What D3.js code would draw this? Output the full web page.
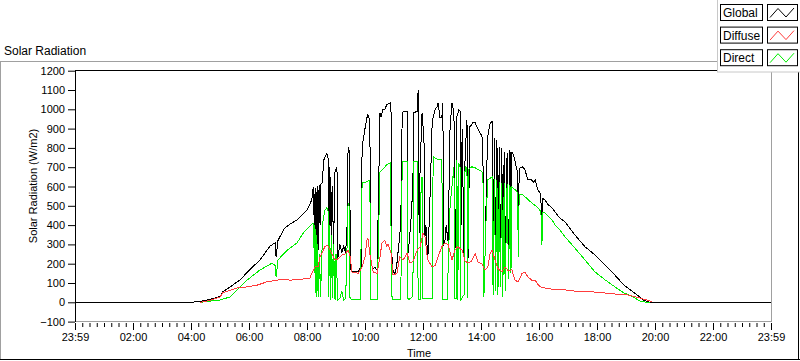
<!DOCTYPE html>
<html><head><meta charset="utf-8">
<script src="https://cdn.jsdelivr.net/npm/d3@7"></script>
<style>
html,body{margin:0;padding:0;background:#fff;overflow:hidden;}
svg text{font-family:"Liberation Sans",Arial,sans-serif;fill:#000;}
</style></head><body>
<svg id="chart" width="800" height="361"></svg>
<script>
// ---------- DATA ----------
const seriesNames = ["Global", "Diffuse", "Direct"];
const xTickLabels = ["23:59","02:00","04:00","06:00","08:00","10:00","12:00","14:00","16:00","18:00","20:00","22:00","23:59"];
const yTickValues = [-100,0,100,200,300,400,500,600,700,800,900,1000,1100,1200];

const globalData = [["00:00",0],["04:00",0],["04:19",5],["04:39",15],["05:00",30],["05:06",55],["05:21",80],["05:41",115],["06:02",170],["06:23",220],["06:43",290],["06:54",308],["06:56",235],["07:00",320],["07:04",340],["07:14",385],["07:25",405],["07:39",427],["08:00",478],["08:10",531],["08:12",583],["08:14",598],["08:15",300],["08:16",560],["08:17",280],["08:18",590],["08:19",250],["08:20",570],["08:21",300],["08:22",600],["08:23",270],["08:25",610],["08:27",400],["08:29",615],["08:31",618],["08:35",739],["08:41",773],["08:44",740],["08:45",287],["08:46",700],["08:47",300],["08:48",650],["08:50",350],["08:52",600],["08:55",300],["08:58",680],["09:02",700],["09:04",230],["09:08",300],["09:12",260],["09:16",290],["09:20",255],["09:23",400],["09:25",806],["09:27",790],["09:31",168],["09:35",157],["09:46",160],["09:52",185],["09:54",806],["10:00",900],["10:04",956],["10:06",972],["10:10",940],["10:12",200],["10:17",175],["10:21",180],["10:25",166],["10:31",982],["10:33",960],["10:37",997],["10:41",1000],["10:45",1023],["10:52",1033],["10:54",980],["10:56",183],["11:02",141],["11:06",200],["11:12",350],["11:14",410],["11:17",982],["11:21",990],["11:23",987],["11:27",990],["11:29",254],["11:31",300],["11:35",420],["11:39",600],["11:41",982],["11:48",990],["11:50",1100],["11:52",360],["11:54",700],["11:58",982],["12:02",850],["12:04",340],["12:06",400],["12:10",225],["12:14",500],["12:19",930],["12:21",960],["12:25",1000],["12:29",1013],["12:31",1033],["12:35",960],["12:39",960],["12:41",1033],["12:43",300],["12:45",307],["12:48",400],["12:52",310],["12:56",910],["13:00",1033],["13:04",980],["13:06",515],["13:08",280],["13:10",960],["13:14",997],["13:17",990],["13:19",400],["13:21",900],["13:25",230],["13:27",755],["13:31",945],["13:33",205],["13:37",910],["13:41",920],["13:43",930],["13:48",930],["13:54",895],["14:00",870],["14:02",860],["14:04",755],["14:06",183],["14:08",200],["14:12",700],["14:14",860],["14:19",930],["14:23",936],["14:24",800],["14:25",260],["14:28",851],["14:30",230],["14:33",840],["14:35",200],["14:38",806],["14:40",250],["14:43",800],["14:45",220],["14:48",780],["14:50",190],["14:54",773],["14:57",230],["15:00",790],["15:02",300],["15:04",780],["15:06",770],["15:10",738],["15:14",686],["15:16",680],["15:17",260],["15:19",690],["15:21",697],["15:25",702],["15:27",700],["15:31",686],["15:37",634],["15:45",634],["15:48",620],["15:52",634],["15:56",598],["15:58",583],["16:04",556],["16:05",307],["16:07",540],["16:12",531],["16:19",505],["16:27",490],["16:33",468],["16:43",437],["16:54",417],["17:14",350],["17:35",288],["17:56",245],["18:17",193],["18:37",141],["18:56",89],["19:04",74],["19:23",38],["19:35",12],["19:50",0],["24:00",0]];

const diffuseData = [["04:19",0],["04:39",10],["05:00",28],["05:06",50],["05:35",74],["05:56",80],["06:17",89],["06:37",106],["06:58",115],["07:10",118],["07:25",115],["07:46",118],["08:06",126],["08:10",150],["08:17",183],["08:23",185],["08:27",235],["08:37",288],["08:43",296],["08:50",260],["08:58",220],["09:04",225],["09:12",245],["09:19",250],["09:25",270],["09:29",240],["09:33",157],["09:46",150],["09:54",183],["10:00",235],["10:04",322],["10:06",332],["10:10",250],["10:17",157],["10:25",150],["10:31",235],["10:35",307],["10:41",322],["10:45",290],["10:48",300],["10:54",254],["10:58",141],["11:06",150],["11:12",235],["11:19",220],["11:27",254],["11:33",203],["11:39",210],["11:48",270],["11:54",288],["12:00",357],["12:04",340],["12:08",250],["12:10",220],["12:19",183],["12:25",190],["12:31",235],["12:39",288],["12:45",307],["12:52",300],["13:00",220],["13:06",270],["13:12",288],["13:21",270],["13:27",215],["13:33",203],["13:41",215],["13:48",254],["13:54",208],["14:02",200],["14:08",168],["14:14",183],["14:19",254],["14:23",270],["14:29",220],["14:35",176],["14:43",157],["14:50",183],["14:56",165],["15:04",168],["15:10",115],["15:17",106],["15:25",150],["15:31",157],["15:37",131],["15:45",115],["15:52",115],["15:56",99],["16:02",80],["16:12",74],["16:27",68],["16:43",68],["17:14",58],["17:56",53],["18:17",48],["18:37",43],["18:56",43],["19:29",22],["19:50",7],["19:55",0]];

const directData = [["04:19",0],["05:00",12],["05:21",28],["05:56",115],["06:23",168],["06:48",203],["06:54",190],["06:56",131],["07:00",220],["07:19",270],["07:39",307],["07:52",358],["08:12",410],["08:14",405],["08:15",150],["08:16",400],["08:17",50],["08:18",380],["08:19",30],["08:20",350],["08:21",60],["08:22",300],["08:24",28],["08:26",250],["08:28",30],["08:33",420],["08:37",478],["08:41",490],["08:44",470],["08:45",30],["08:47",400],["08:49",12],["08:51",350],["08:53",20],["08:55",300],["08:58",12],["09:00",250],["09:04",12],["09:08",20],["09:12",60],["09:16",12],["09:20",20],["09:23",300],["09:25",515],["09:27",500],["09:29",20],["09:33",12],["09:50",12],["09:54",618],["10:04",625],["10:10",634],["10:12",12],["10:25",12],["10:31",675],["10:45",712],["10:52",722],["10:56",12],["11:14",12],["11:17",727],["11:27",727],["11:29",12],["11:39",30],["11:41",727],["11:48",727],["11:50",12],["11:54",12],["11:56",600],["11:58",650],["12:00",20],["12:19",20],["12:21",755],["12:31",738],["12:39",738],["12:41",12],["12:50",12],["12:56",500],["13:04",700],["13:06",20],["13:09",20],["13:10",738],["13:12",12],["13:14",720],["13:17",700],["13:18",12],["13:25",40],["13:27",702],["13:31",700],["13:32",20],["13:35",690],["13:41",702],["13:48",697],["14:02",677],["14:04",670],["14:06",28],["14:10",400],["14:14",634],["14:23",650],["14:25",40],["14:28",640],["14:30",60],["14:33",634],["14:35",40],["14:38",625],["14:40",80],["14:43",620],["14:45",30],["14:48",617],["14:50",60],["14:54",615],["14:57",120],["15:00",610],["15:02",150],["15:04",598],["15:14",575],["15:16",566],["15:17",235],["15:19",560],["15:27",556],["15:45",515],["15:58",490],["16:04",468],["16:06",296],["16:08",465],["16:12",463],["16:27",427],["16:33",401],["16:43",375],["16:54",339],["17:14",282],["17:35",220],["17:56",157],["18:17",116],["18:37",80],["18:56",48],["19:04",40],["19:14",28],["19:29",7],["19:43",0],["19:50",0]];

// ---------- CHART ----------
const colors = {Global:"#000000", Diffuse:"#ff3c3c", Direct:"#00ee00"};
const toMin = s => { const [h,m] = s.split(":").map(Number); return h*60+m; };

const svg = d3.select("#chart");
const x = d3.scaleLinear().domain([0,1440]).range([75,771]);
const y = d3.scaleLinear().domain([-100,1200]).range([321.6,70.7]);

// outer frame
svg.append("line").attr("x1",0).attr("x2",800).attr("y1",61.5).attr("y2",61.5).attr("stroke","#a0a0a0");
svg.append("line").attr("x1",0.5).attr("x2",0.5).attr("y1",61).attr("y2",360).attr("stroke","#a0a0a0");
svg.append("line").attr("x1",0).attr("x2",800).attr("y1",359.5).attr("y2",359.5).attr("stroke","#000");
svg.append("line").attr("x1",798.5).attr("x2",798.5).attr("y1",61).attr("y2",360).attr("stroke","#000");

// title
svg.append("text").attr("x",4).attr("y",55).style("font-size","12px").text("Solar Radiation");

// plot area
svg.append("rect").attr("x",75).attr("y",70.5).attr("width",696.5).attr("height",251).attr("fill","#fff");
svg.append("line").attr("x1",771.5).attr("x2",771.5).attr("y1",70.5).attr("y2",321.5).attr("stroke","#a0a0a0");
svg.append("line").attr("x1",75).attr("x2",772).attr("y1",321.5).attr("y2",321.5).attr("stroke","#a0a0a0");
svg.append("line").attr("x1",75).attr("x2",772).attr("y1",70.5).attr("y2",70.5).attr("stroke","#000");
svg.append("line").attr("x1",75.5).attr("x2",75.5).attr("y1",70).attr("y2",322).attr("stroke","#000");

// y axis
const yAxis = svg.append("g").attr("transform","translate(75,0)")
  .call(d3.axisLeft(y).tickValues(yTickValues).tickFormat(d3.format("d"))
    .tickSizeInner(7).tickSizeOuter(0).tickPadding(3));
yAxis.select(".domain").remove();
yAxis.selectAll("text").style("font-size","11px").attr("fill","#000");
yAxis.selectAll("line").attr("stroke","#000");

// x axis: minor + major
const minorTicks = d3.range(0,1441,15);
const majorTicks = d3.range(0,1441,120);
const xMinor = svg.append("g").attr("transform","translate(0,323)")
  .call(d3.axisBottom(x).tickValues(minorTicks).tickSize(4).tickFormat(""));
xMinor.select(".domain").remove();
xMinor.selectAll("line").attr("stroke","#000");
const xMajor = svg.append("g").attr("transform","translate(0,323)")
  .call(d3.axisBottom(x).tickValues(majorTicks).tickSize(7).tickPadding(3)
    .tickFormat((d,i)=>xTickLabels[i]));
xMajor.select(".domain").remove();
xMajor.selectAll("line").attr("stroke","#000");
xMajor.selectAll("text").style("font-size","11px").attr("fill","#000");

// axis titles
svg.append("text").attr("transform","translate(37,186) rotate(-90)").attr("text-anchor","middle")
  .style("font-size","11px").text("Solar Radiation (W/m2)");
svg.append("text").attr("x",419).attr("y",357).attr("text-anchor","middle")
  .style("font-size","11px").text("Time");

// lines
const line = d3.line().x(d=>x(toMin(d[0]))).y(d=>y(d[1]));
const plotG = svg.append("g");
[["Global",globalData],["Direct",directData],["Diffuse",diffuseData]].forEach(([name,data])=>{
  plotG.append("path").datum(data).attr("d",line).attr("fill","none")
    .attr("stroke",colors[name]).attr("stroke-width",1).attr("shape-rendering","crispEdges");
});

// legend
const lg = svg.append("g");
lg.append("rect").attr("x",717.5).attr("y",-2).attr("width",90).attr("height",74)
  .attr("fill","#fff").attr("stroke","#c8c8c8");
seriesNames.forEach((name,i)=>{
  const top = 4.5 + i*22.6;
  lg.append("rect").attr("x",720.5).attr("y",top).attr("width",42).attr("height",16)
    .attr("fill","#fff").attr("stroke","#000");
  lg.append("text").attr("x",723).attr("y",top+12.5).style("font-size","12px").text(name);
  lg.append("rect").attr("x",767.5).attr("y",top).attr("width",30).attr("height",16)
    .attr("fill","#fff").attr("stroke","#000");
  const zz = [[2.5,13],[10.5,4],[18.5,12.5],[26.5,3.5]].map(p=>[767.5+p[0], top+p[1]]);
  lg.append("path").attr("d",d3.line()(zz)).attr("fill","none").attr("stroke",colors[name]);
});
</script>
</body></html>
